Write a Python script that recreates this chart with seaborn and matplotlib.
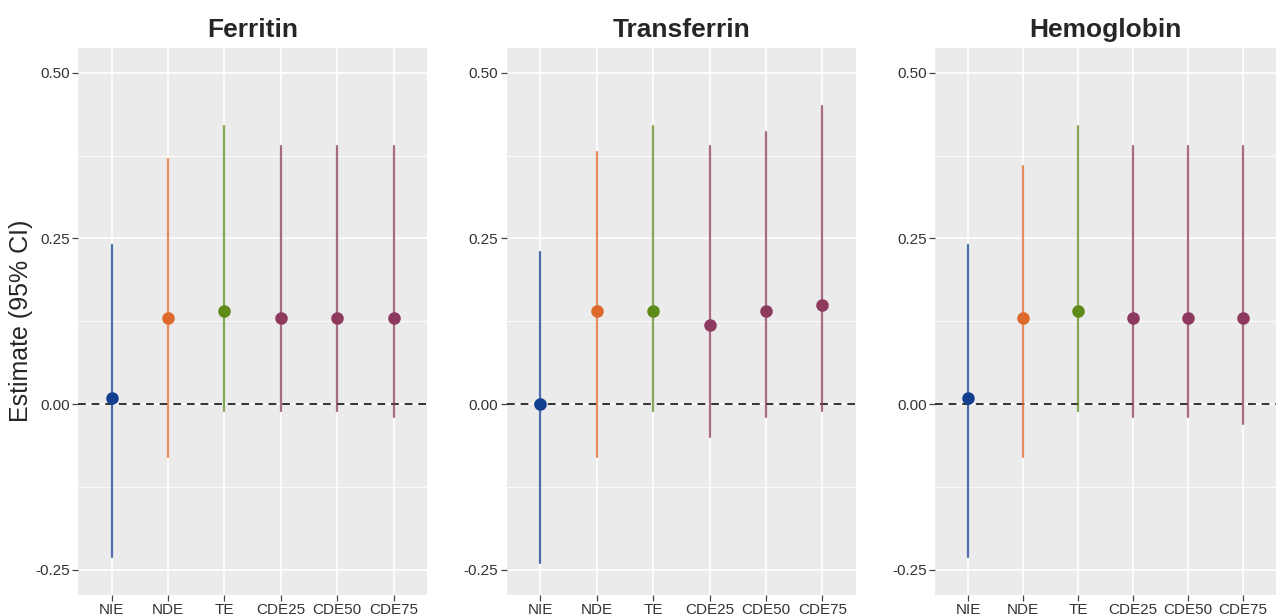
import numpy as np
import pandas as pd
import seaborn as sns
from matplotlib import pyplot as plt

effects = ['NIE', 'NDE', 'TE', 'CDE25', 'CDE50', 'CDE75']
outcomes = ['Ferritin', 'Transferrin', 'Hemoglobin']

# estimate, lower and upper 95% CI per outcome
ferritin_est = [0.01, 0.13, 0.14, 0.13, 0.13, 0.13]
ferritin_lo = [-0.23, -0.08, -0.01, -0.01, -0.01, -0.02]
ferritin_hi = [0.24, 0.37, 0.42, 0.39, 0.39, 0.39]

transferrin_est = [0.00, 0.14, 0.14, 0.12, 0.14, 0.15]
transferrin_lo = [-0.24, -0.08, -0.01, -0.05, -0.02, -0.01]
transferrin_hi = [0.23, 0.38, 0.42, 0.39, 0.41, 0.45]

hemoglobin_est = [0.01, 0.13, 0.14, 0.13, 0.13, 0.13]
hemoglobin_lo = [-0.23, -0.08, -0.01, -0.02, -0.02, -0.03]
hemoglobin_hi = [0.24, 0.36, 0.42, 0.39, 0.39, 0.39]

y_ticks = [-0.25, 0.00, 0.25, 0.50]
y_tick_labels = ['-0.25', '0.00', '0.25', '0.50']

palette = {'NIE': '#123f8f', 'NDE': '#dd6a2c', 'TE': '#5e8a1a',
           'CDE25': '#8e3a5e', 'CDE50': '#8e3a5e', 'CDE75': '#8e3a5e'}

data = {
    'Ferritin': (ferritin_est, ferritin_lo, ferritin_hi),
    'Transferrin': (transferrin_est, transferrin_lo, transferrin_hi),
    'Hemoglobin': (hemoglobin_est, hemoglobin_lo, hemoglobin_hi),
}

sns.set_style('darkgrid', {'axes.facecolor': '#EBEBEB', 'grid.color': 'white'})
plt.rcParams['font.family'] = ['Liberation Sans', 'DejaVu Sans']

fig = plt.figure(figsize=(12.76, 6.15), dpi=100)
boxes = [(0.061, 0.274), (0.397, 0.274), (0.733, 0.267)]

for i, name in enumerate(outcomes):
    est, lo, hi = data[name]
    # long form: lo, est, hi rows -> median = estimate, full range = CI
    long = pd.DataFrame({
        'effect': effects * 3,
        'value': list(lo) + list(est) + list(hi),
    })
    left, width = boxes[i]
    ax = fig.add_axes([left, 0.033, width, 0.889])
    ax.axhline(0, color='#333333', linestyle=(0, (4, 3)), linewidth=1.4, zorder=1)
    sns.pointplot(data=long, x='effect', y='value', hue='effect', order=effects,
                  palette=palette, estimator='median', errorbar=('pi', 100),
                  linestyle='none', markersize=7, legend=False, ax=ax,
                  err_kws={'linewidth': 1.6, 'alpha': 0.75})
    ax.set_xlim(-0.6, 5.6)
    ax.set_ylim(-0.2875, 0.5375)
    ax.set_yticks(y_ticks)
    ax.set_yticklabels(y_tick_labels)
    ax.set_yticks([-0.125, 0.125, 0.375], minor=True)
    ax.grid(True, which='major', color='white', linewidth=1.2)
    ax.grid(True, which='minor', axis='y', color='white', linewidth=0.6)
    ax.set_axisbelow(True)
    for s in ax.spines.values():
        s.set_visible(False)
    ax.tick_params(axis='both', which='major', length=4, width=0.9, color='#444444',
                   labelsize=11, labelcolor='#333333', pad=2, bottom=True, left=True)
    ax.tick_params(axis='both', which='minor', length=0)
    ax.set_xlabel('')
    ax.set_ylabel('')
    ax.set_title(name, fontsize=19, fontweight='bold', pad=8)

fig.text(0.0165, 0.478, 'Estimate (95% CI)', rotation=90, fontsize=18,
         ha='center', va='center')

fig.savefig('out.png', dpi=100)
